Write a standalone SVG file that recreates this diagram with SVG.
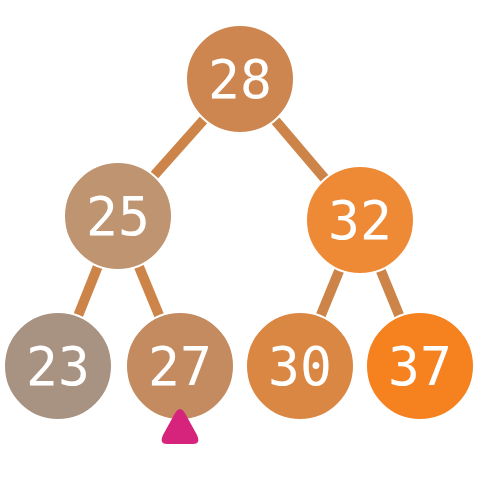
<svg xmlns="http://www.w3.org/2000/svg" width="480" height="480" viewBox="0 0 480 480">
<style>
.edge{stroke:#cc8449;stroke-width:10;fill:none}
.n circle{stroke:#ffffff;stroke-width:2}
.n text{font-family:"DejaVu Sans Mono",monospace;font-size:53px;fill:#ffffff;text-anchor:middle;dominant-baseline:central}
</style>
<rect width="480" height="480" fill="#ffffff"/>
<g id="edges">
<line class="edge" x1="240" y1="79" x2="118" y2="216"/>
<line class="edge" x1="240" y1="79" x2="360" y2="220"/>
<line class="edge" x1="118" y1="216" x2="58" y2="366"/>
<line class="edge" x1="118" y1="216" x2="180" y2="366"/>
<line class="edge" x1="360" y1="220" x2="300" y2="366"/>
<line class="edge" x1="360" y1="220" x2="420" y2="366"/>
</g>
<g id="n28" class="n"><circle cx="240" cy="79" r="54" fill="#cd8650"/><text x="240" y="79">28</text></g>
<g id="n25" class="n"><circle cx="118" cy="216" r="54" fill="#bf9470"/><text x="118" y="216">25</text></g>
<g id="n32" class="n"><circle cx="360" cy="220" r="54" fill="#ee8a35"/><text x="360" y="220">32</text></g>
<g id="n23" class="n"><circle cx="58" cy="366" r="54" fill="#a89282"/><text x="58" y="366">23</text></g>
<g id="n27" class="n"><circle cx="180" cy="366" r="54" fill="#c48b60"/><text x="180" y="366">27</text></g>
<g id="n30" class="n"><circle cx="300" cy="366" r="54" fill="#db8744"/><text x="300" y="366">30</text></g>
<g id="n37" class="n"><circle cx="420" cy="366" r="54" fill="#f5821f"/><text x="420" y="366">37</text></g>
<g id="pointer"><path d="M180 409 Q183 409 186 415 L197 435 Q201 444 193 444 L167 444 Q159 444 163 435 L174 415 Q177 409 180 409 Z" fill="#d6247d"/></g>
</svg>
